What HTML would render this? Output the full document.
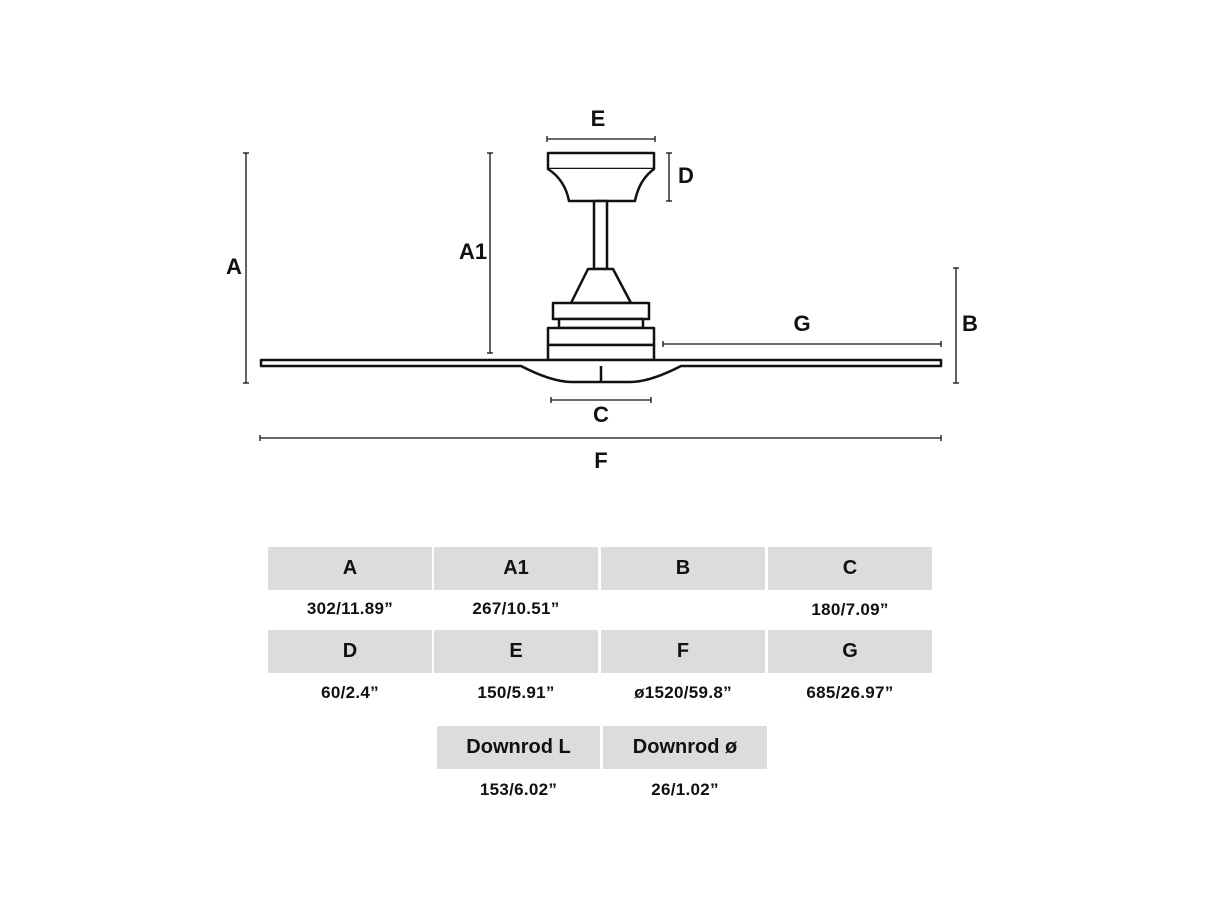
<!DOCTYPE html>
<html><head><meta charset="utf-8"><style>
body{margin:0;background:#fff;width:1206px;height:904px;overflow:hidden;font-family:"Liberation Sans",sans-serif}
svg{position:absolute;left:0;top:0}
.c{position:absolute;background:#dcdcdc;height:43px;line-height:43px;text-align:center;font-weight:bold;font-size:20px;color:#111}
.v{position:absolute;text-align:center;font-size:17px;color:#111;font-weight:bold;letter-spacing:0.3px}
</style></head><body>
<svg width="1206" height="904" viewBox="0 0 1206 904">
<g fill="none" stroke="#111" stroke-width="1.3">
<line x1="246" y1="153" x2="246" y2="383"/><line x1="243" y1="153" x2="249" y2="153"/><line x1="243" y1="383" x2="249" y2="383"/>
<line x1="490" y1="153" x2="490" y2="353"/><line x1="487" y1="153" x2="493" y2="153"/><line x1="487" y1="353" x2="493" y2="353"/>
<line x1="669" y1="153" x2="669" y2="201"/><line x1="666" y1="153" x2="672" y2="153"/><line x1="666" y1="201" x2="672" y2="201"/>
<line x1="547" y1="139" x2="655" y2="139"/><line x1="547" y1="136" x2="547" y2="142"/><line x1="655" y1="136" x2="655" y2="142"/>
<line x1="956" y1="268" x2="956" y2="383"/><line x1="953" y1="268" x2="959" y2="268"/><line x1="953" y1="383" x2="959" y2="383"/>
<line x1="663" y1="344" x2="941" y2="344"/><line x1="663" y1="341" x2="663" y2="347"/><line x1="941" y1="341" x2="941" y2="347"/>
<line x1="551" y1="400" x2="651" y2="400"/><line x1="551" y1="397" x2="551" y2="403"/><line x1="651" y1="397" x2="651" y2="403"/>
<line x1="260" y1="438" x2="941" y2="438"/><line x1="260" y1="435" x2="260" y2="441"/><line x1="941" y1="435" x2="941" y2="441"/>
</g>
<g fill="#fff" stroke="#111" stroke-width="2.5" stroke-linejoin="round">
<rect x="548" y="153" width="106" height="16"/>
<path d="M548 169 Q565 180 569 201 L635 201 Q639 180 654 169"/>
<rect x="594" y="201" width="13" height="68"/>
<path d="M588 269 L613 269 L631 303 L571 303 Z"/>
<rect x="553" y="303" width="96" height="16"/>
<rect x="559" y="319" width="84" height="9"/>
<rect x="548" y="328" width="106" height="17"/>
<rect x="548" y="345" width="106" height="15"/>
<path d="M261 360 L941 360 L941 366 L681 366 Q650 382 630 382 L572 382 Q552 382 521 366 L261 366 Z"/>
<line x1="601" y1="366" x2="601" y2="382"/>
</g>
<g font-family="Liberation Sans,sans-serif" font-weight="bold" font-size="22" fill="#111" text-anchor="middle">
<text x="234" y="274">A</text><text x="473" y="259">A1</text>
<text x="598" y="126">E</text><text x="686" y="183">D</text>
<text x="802" y="331">G</text><text x="970" y="331">B</text>
<text x="601" y="422">C</text><text x="601" y="468">F</text>
</g>
</svg>
<div class="c" style="left:268px;top:547px;width:164px">A</div>
<div class="c" style="left:434px;top:547px;width:164px">A1</div>
<div class="c" style="left:601px;top:547px;width:164px">B</div>
<div class="c" style="left:768px;top:547px;width:164px">C</div>
<div class="v" style="left:268px;top:599px;width:164px">302/11.89”</div>
<div class="v" style="left:434px;top:599px;width:164px">267/10.51”</div>
<div class="v" style="left:768px;top:600px;width:164px">180/7.09”</div>
<div class="c" style="left:268px;top:630px;width:164px">D</div>
<div class="c" style="left:434px;top:630px;width:164px">E</div>
<div class="c" style="left:601px;top:630px;width:164px">F</div>
<div class="c" style="left:768px;top:630px;width:164px">G</div>
<div class="v" style="left:268px;top:683px;width:164px">60/2.4”</div>
<div class="v" style="left:434px;top:683px;width:164px">150/5.91”</div>
<div class="v" style="left:601px;top:683px;width:164px">ø1520/59.8”</div>
<div class="v" style="left:768px;top:683px;width:164px">685/26.97”</div>
<div class="c" style="left:437px;top:726px;width:163px">Downrod L</div>
<div class="c" style="left:603px;top:726px;width:164px">Downrod ø</div>
<div class="v" style="left:437px;top:780px;width:163px">153/6.02”</div>
<div class="v" style="left:603px;top:780px;width:164px">26/1.02”</div>
</body></html>
